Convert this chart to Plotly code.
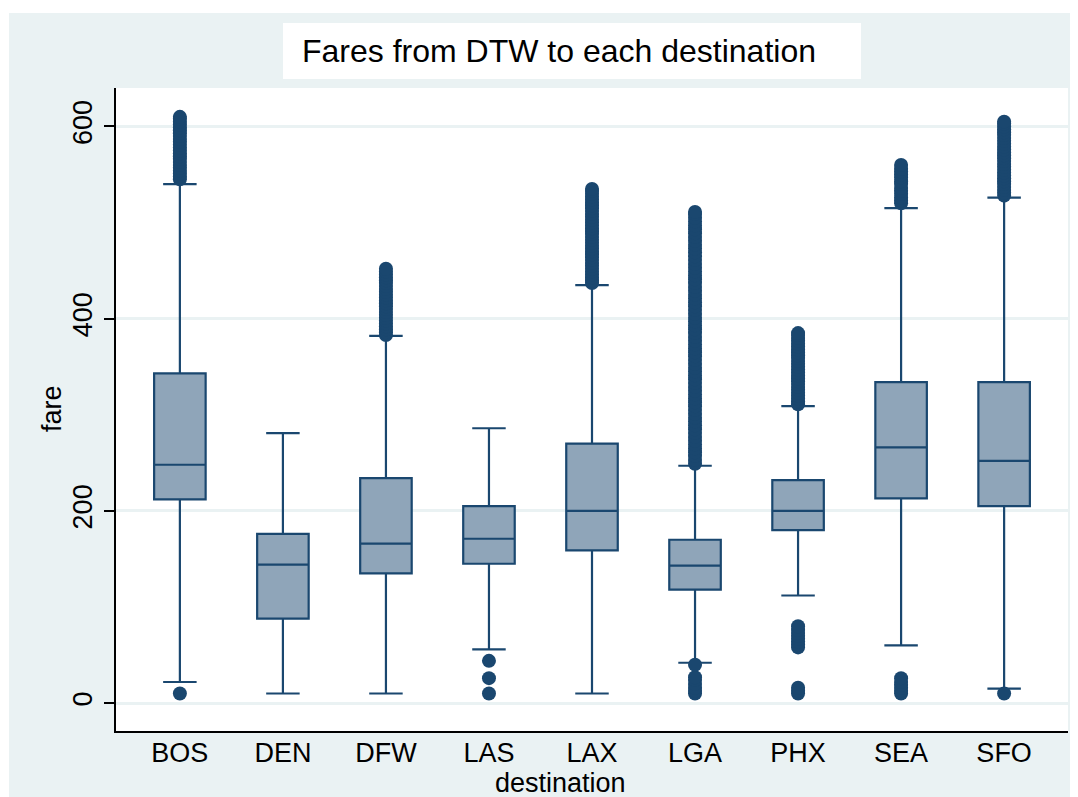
import plotly.graph_objects as go

# destinations and box statistics (fare)
dest = ["BOS", "DEN", "DFW", "LAS", "LAX", "LGA", "PHX", "SEA", "SFO"]
q1 = [212, 88, 135, 145, 159, 118, 180, 213, 205]
med = [248, 144, 166, 171, 200, 143, 200, 266, 252]
q3 = [343, 176, 234, 205, 270, 170, 232, 334, 334]
lo_whisk = [22, 10, 10, 56, 10, 42, 112, 60, 15]
hi_whisk = [540, 281, 382, 286, 435, 247, 309, 515, 526]

# outside values per destination
out_bos = [10, 545, 548, 551, 554, 557, 560, 563, 566, 569, 572, 575, 578, 581, 584,
           587, 590, 593, 596, 599, 602, 605, 608, 610]
out_den = []
out_dfw = [383, 386, 389, 392, 395, 398, 401, 404, 407, 410, 413, 416, 419, 422, 425,
           428, 431, 434, 437, 440, 443, 446, 449, 452]
out_las = [10, 26, 44]
out_lax = [437, 440, 443, 446, 449, 452, 455, 458, 461, 464, 467, 470, 473, 476, 479,
           482, 485, 488, 491, 494, 497, 500, 503, 506, 509, 512, 515, 518, 521, 524,
           527, 530, 533, 535]
out_lga = [10, 13, 16, 20, 24, 27, 40,
           249, 253, 257, 261, 265, 269, 273, 277, 281, 285, 289, 293, 297, 301, 305,
           309, 313, 317, 321, 325, 329, 333, 337, 341, 345, 349, 353, 357, 361, 365,
           369, 373, 377, 381, 385, 389, 393, 397, 401, 405, 409, 413, 417, 421, 425,
           429, 433, 437, 441, 445, 449, 453, 457, 461, 465, 469, 473, 477, 481, 485,
           489, 493, 497, 501, 505, 509, 511]
out_phx = [10, 13, 16, 58, 61, 64, 67, 70, 73, 76, 80,
           311, 314, 317, 320, 323, 326, 329, 332, 335, 338, 341, 344, 347, 350, 353,
           356, 359, 362, 365, 368, 371, 374, 377, 380, 383, 385]
out_sea = [10, 13, 16, 19, 22, 26,
           520, 523, 526, 530, 533, 536, 540, 543, 547, 550, 553, 556, 560]
out_sfo = [10, 528, 531, 534, 537, 540, 543, 546, 549, 552, 555, 558, 561, 564, 567,
           570, 573, 576, 579, 582, 585, 588, 591, 594, 597, 600, 603, 605]

outside = [out_bos, out_den, out_dfw, out_las, out_lax, out_lga, out_phx, out_sea, out_sfo]

navy = "#1a476f"
bluegray = "#eaf2f3"
font = "Liberation Sans, Arial, sans-serif"

ox, oy = [], []
for d, vals in zip(dest, outside):
    ox += [d] * len(vals)
    oy += vals

fig = go.Figure()
fig.add_trace(go.Box(x=dest, q1=q1, median=med, q3=q3,
                     lowerfence=lo_whisk, upperfence=hi_whisk,
                     boxpoints=False, width=0.5, whiskerwidth=0.65,
                     fillcolor="#8fa5b9", line=dict(color=navy, width=2.2)))
fig.add_trace(go.Scatter(x=ox, y=oy, mode="markers",
                         marker=dict(size=14, color=navy), hoverinfo="y"))

# page body has an 8px margin; plot area sits at 116..1068 x, 88..731 y on the page
def px(x):
    return (x - 116) / 952.0

def py(y):
    return (731 - y) / 643.0

fig.update_layout(
    width=1070, height=789,
    margin=dict(l=108, r=10, t=80, b=66),
    paper_bgcolor=bluegray, plot_bgcolor="white",
    showlegend=False,
    font=dict(family=font, color="black", size=26),
    shapes=[
        # thin white border round the outer panel
        dict(type="rect", xref="paper", yref="paper", x0=px(0), x1=px(9), y0=py(800), y1=py(0),
             fillcolor="white", line=dict(width=0), layer="above"),
        dict(type="rect", xref="paper", yref="paper", x0=px(0), x1=px(1080), y0=py(13), y1=py(0),
             fillcolor="white", line=dict(width=0), layer="above"),
        dict(type="rect", xref="paper", yref="paper", x0=px(1075), x1=px(1080), y0=py(800), y1=py(0),
             fillcolor="white", line=dict(width=0), layer="above"),
        # title box
        dict(type="rect", xref="paper", yref="paper", x0=px(283), x1=px(861), y0=py(79), y1=py(23),
             fillcolor="white", line=dict(width=0), layer="above"),
    ],
    annotations=[
        dict(text="Fares from DTW to each destination", xref="paper", yref="paper",
             x=px(559), y=py(51), showarrow=False, xanchor="center", yanchor="middle",
             font=dict(size=32, family=font, color="black")),
        dict(text="fare", xref="paper", yref="paper", x=px(52), y=py(409), textangle=-90,
             showarrow=False, xanchor="center", yanchor="middle",
             font=dict(size=27, family=font, color="black")),
        dict(text="destination", xref="paper", yref="paper", x=px(560), y=py(783),
             showarrow=False, xanchor="center", yanchor="middle",
             font=dict(size=27, family=font, color="black")),
    ],
    xaxis=dict(type="category", categoryorder="array", categoryarray=dest,
               range=[-0.62, 8.62], showline=True, linecolor="black",
               linewidth=1.5, ticks="", showgrid=False, automargin=False,
               tickfont=dict(size=27), ticklabelstandoff=-3),
    yaxis=dict(range=[-29, 640], tickvals=[0, 200, 400, 600], tickangle=-90,
               ticks="outside", ticklen=10, tickcolor="black", tickwidth=1.5,
               showline=True, linecolor="black", linewidth=1.5,
               showgrid=True, gridcolor=bluegray, gridwidth=2.5, zeroline=False,
               automargin=False, tickfont=dict(size=27), ticklabelstandoff=1),
)

fig.write_html("out.html")
